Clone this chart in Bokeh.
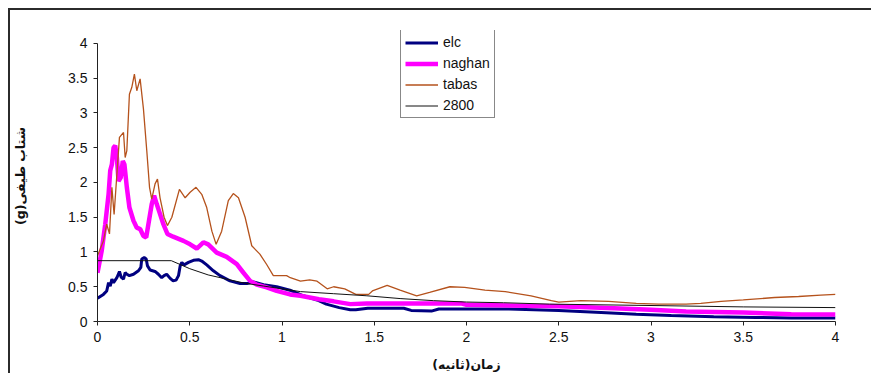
from bokeh.plotting import figure
from bokeh.models import Legend, LegendItem, FixedTicker, Range1d
from bokeh.embed import file_html
from bokeh.resources import INLINE

# ---- data ----
elc_x = [0, 0.032, 0.05, 0.06, 0.069, 0.078, 0.087, 0.105, 0.119, 0.128, 0.141, 0.15, 0.159, 0.173,
         0.195, 0.222, 0.235, 0.24, 0.253, 0.264, 0.271, 0.285, 0.312, 0.33, 0.348, 0.361, 0.375,
         0.394, 0.41, 0.426, 0.439, 0.448, 0.457, 0.469, 0.493, 0.52, 0.547, 0.565, 0.592, 0.628,
         0.664, 0.718, 0.773, 0.81, 0.845, 0.90, 0.971, 1.043, 1.116, 1.19, 1.24, 1.31, 1.37, 1.40,
         1.465, 1.66, 1.70, 1.81, 1.85, 2.23, 2.50, 2.73, 2.92, 3.11, 3.34, 3.57, 3.76, 4.0]
elc_y = [0.335, 0.39, 0.44, 0.56, 0.51, 0.61, 0.56, 0.63, 0.72, 0.64, 0.61, 0.705, 0.68, 0.66,
         0.68, 0.73, 0.78, 0.90, 0.92, 0.90, 0.80, 0.74, 0.72, 0.68, 0.63, 0.66, 0.68,
         0.62, 0.585, 0.595, 0.66, 0.80, 0.85, 0.815, 0.85, 0.88, 0.89, 0.87, 0.815, 0.73,
         0.66, 0.585, 0.545, 0.545, 0.57, 0.53, 0.50, 0.45, 0.37, 0.31, 0.25, 0.20, 0.17, 0.17,
         0.19, 0.19, 0.16, 0.15, 0.18, 0.18, 0.16, 0.13, 0.105, 0.086, 0.067, 0.058, 0.05, 0.05]

naghan_x = [0, 0.023, 0.042, 0.06, 0.069, 0.078, 0.087, 0.096, 0.105, 0.114, 0.126, 0.137, 0.146,
            0.159, 0.173, 0.195, 0.213, 0.231, 0.249, 0.264, 0.276, 0.294, 0.307, 0.321, 0.336,
            0.357, 0.379, 0.41, 0.466, 0.502, 0.538, 0.574, 0.60, 0.646, 0.70, 0.755, 0.79, 0.827,
            0.863, 0.917, 0.971, 1.043, 1.10, 1.20, 1.28, 1.37, 1.46, 1.97, 2.0, 2.5, 2.8, 3.0,
            3.19, 3.5, 3.76, 4.0]
naghan_y = [0.70, 1.02, 1.40, 1.83, 2.17, 2.26, 2.50, 2.53, 2.36, 2.02, 2.07, 2.31, 2.26,
            1.93, 1.64, 1.45, 1.35, 1.33, 1.23, 1.21, 1.40, 1.69, 1.81, 1.69, 1.57,
            1.40, 1.26, 1.22, 1.16, 1.11, 1.05, 1.14, 1.11, 0.99, 0.93, 0.825, 0.705, 0.585,
            0.53, 0.49, 0.44, 0.39, 0.37, 0.32, 0.29, 0.25, 0.26, 0.26, 0.24, 0.22, 0.19, 0.17,
            0.145, 0.13, 0.105, 0.10]

tabas_x = [0, 0.032, 0.05, 0.065, 0.078, 0.09, 0.119, 0.141, 0.15, 0.159, 0.173, 0.186, 0.2,
           0.213, 0.231, 0.249, 0.267, 0.282, 0.294, 0.312, 0.325, 0.339, 0.361, 0.379, 0.403,
           0.444, 0.475, 0.502, 0.534, 0.565, 0.592, 0.62, 0.643, 0.673, 0.709, 0.736, 0.764,
           0.80, 0.836, 0.88, 0.917, 0.953, 1.025, 1.045, 1.10, 1.15, 1.19, 1.245, 1.28, 1.34,
           1.40, 1.47, 1.49, 1.57, 1.64, 1.73, 1.80, 1.91, 1.99, 2.10, 2.21, 2.35, 2.46, 2.5,
           2.62, 2.77, 2.92, 3.04, 3.19, 3.27, 3.38, 3.5, 3.67, 3.8, 3.92, 4.0]
tabas_y = [0.945, 1.16, 1.40, 1.26, 1.93, 1.54, 2.65, 2.72, 2.36, 2.46, 3.27, 3.37, 3.56,
           3.32, 3.49, 3.06, 2.46, 1.93, 1.76, 1.98, 2.05, 1.78, 1.50, 1.38, 1.50,
           1.90, 1.78, 1.86, 1.93, 1.83, 1.64, 1.30, 1.11, 1.30, 1.74, 1.84, 1.78,
           1.50, 1.09, 0.97, 0.82, 0.66, 0.66, 0.63, 0.58, 0.60, 0.58, 0.47, 0.50, 0.47,
           0.39, 0.39, 0.44, 0.52, 0.45, 0.37, 0.42, 0.50, 0.49, 0.45, 0.43, 0.37, 0.30, 0.28,
           0.30, 0.29, 0.26, 0.25, 0.25, 0.26, 0.29, 0.31, 0.345, 0.36, 0.38, 0.39]

std2800_x = [0, 0.4, 0.5, 0.6, 0.7, 0.8, 0.9, 1.0, 1.1, 1.28, 1.46, 1.64, 1.82, 2.0, 2.2,
             2.45, 3.0, 3.5, 4.0]
std2800_y = [0.875, 0.875, 0.76, 0.67, 0.61, 0.55, 0.51, 0.47, 0.43, 0.40, 0.37, 0.33, 0.30,
             0.28, 0.27, 0.25, 0.23, 0.21, 0.20]

series_names = ["elc", "naghan", "tabas", "2800"]
tick_values = [0, 0.5, 1, 1.5, 2, 2.5, 3, 3.5, 4]
tick_labels = ["0", "0.5", "1", "1.5", "2", "2.5", "3", "3.5", "4"]
x_title = "زمان(ثانیه)"
y_title = "\u202bشتاب طیفی(g)\u202c"

# ---- figure ----
# the y range reaches a little above 4 so that the legend box (which sits
# slightly above the top tick in the reference) stays inside the frame
p = figure(width=863, height=365, output_backend="svg", toolbar_location=None,
           x_range=Range1d(0, 4), y_range=Range1d(0, 4.187),
           min_border_left=87, min_border_right=38, min_border_top=20, min_border_bottom=54,
           background_fill_color="white", border_fill_color="white")
p.styles = {"margin-top": "8px", "margin-left": "8px",
            "border-top": "2px solid #2b2b2b", "border-left": "2px solid #2b2b2b",
            "margin-bottom": "-12px"}
p.outline_line_color = None
p.xgrid.visible = False
p.ygrid.visible = False

r_elc = p.line(elc_x, elc_y, line_color="#000080", line_width=3)
r_nag = p.line(naghan_x, naghan_y, line_color="#FF00FF", line_width=4.5)
r_tab = p.line(tabas_x, tabas_y, line_color="#B5521C", line_width=1.3)
r_std = p.line(std2800_x, std2800_y, line_color="#111111", line_width=1)

overrides = {v: t for v, t in zip(tick_values, tick_labels)}
for ax in (p.xaxis[0], p.yaxis[0]):
    ax.ticker = FixedTicker(ticks=tick_values)
    ax.major_label_overrides = overrides
    ax.bounds = (0, 4)
    ax.minor_tick_line_color = None
    ax.major_tick_in = 0
    ax.major_tick_out = 4
    ax.axis_line_color = "#222222"
    ax.major_tick_line_color = "#222222"
    ax.major_label_text_font = "Liberation Sans"
    ax.major_label_text_font_size = "14px"
    ax.major_label_text_color = "#111111"
    ax.axis_label_text_font = "DejaVu Sans"
    ax.axis_label_text_font_style = "bold"
    ax.axis_label_text_font_size = "12.5px"
    ax.axis_label_text_color = "#111111"

p.xaxis.axis_label = x_title
p.yaxis.axis_label = y_title
p.xaxis.major_label_standoff = 6
p.yaxis.major_label_standoff = 6
p.xaxis.axis_label_standoff = 12
p.yaxis.axis_label_standoff = 37

legend = Legend(items=[LegendItem(label=series_names[0], renderers=[r_elc]),
                       LegendItem(label=series_names[1], renderers=[r_nag]),
                       LegendItem(label=series_names[2], renderers=[r_tab]),
                       LegendItem(label=series_names[3], renderers=[r_std])],
                location=(303, 203), orientation="vertical",
                border_line_color="#111111", border_line_width=1,
                background_fill_color="white", background_fill_alpha=1,
                padding=4, spacing=5, margin=0,
                glyph_width=33, glyph_height=13, label_height=13, label_width=20,
                label_standoff=5, label_text_font="Liberation Sans",
                label_text_font_size="14px", label_text_color="#111111")
p.add_layout(legend)

open("out.html", "w").write(file_html(p, INLINE))
